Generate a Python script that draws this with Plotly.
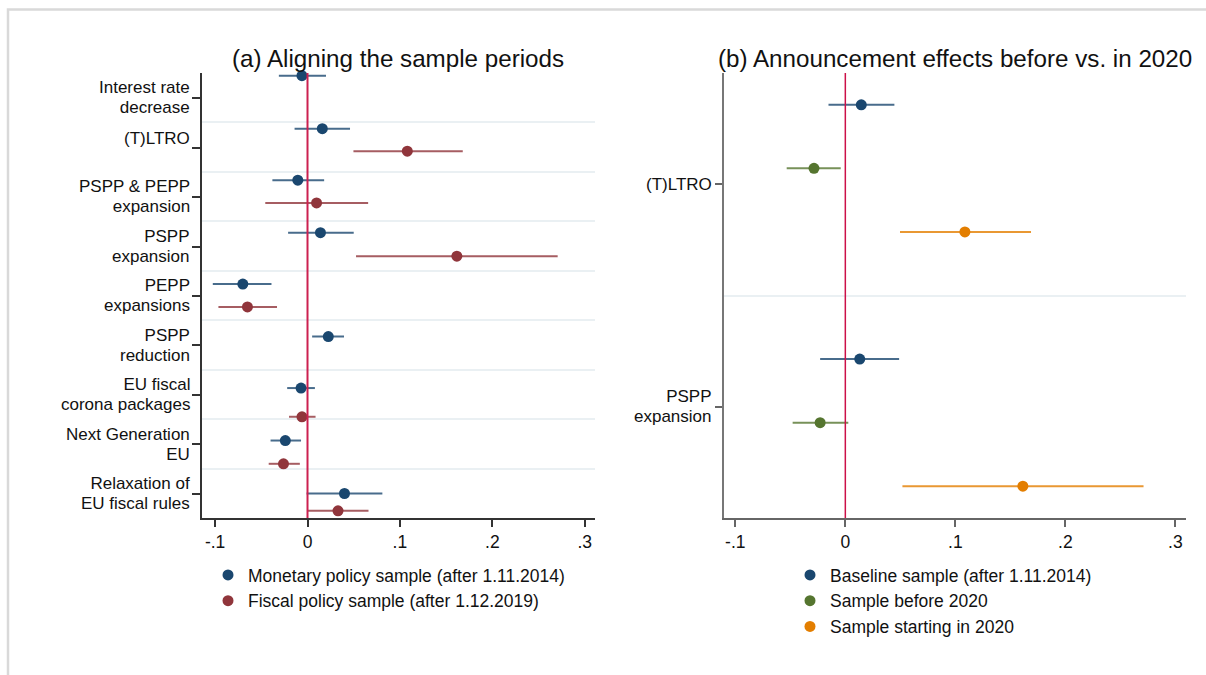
import plotly.graph_objects as go

# ---------------- data: panel (a) ----------------
cats_a = [["Interest rate", "decrease"], ["(T)LTRO"], ["PSPP &amp; PEPP", "expansion"],
          ["PSPP", "expansion"], ["PEPP", "expansions"], ["PSPP", "reduction"],
          ["EU fiscal", "corona packages"], ["Next Generation", "EU"],
          ["Relaxation of", "EU fiscal rules"]]

mon_coef = [-0.006, 0.016, -0.0105, 0.014, -0.070, 0.0225, -0.007, -0.024, 0.040]
mon_lo = [-0.031, -0.014, -0.038, -0.021, -0.1025, 0.005, -0.022, -0.040, -0.001]
mon_hi = [0.020, 0.046, 0.018, 0.050, -0.039, 0.0395, 0.008, -0.007, 0.081]

fis_coef = [None, 0.108, 0.0098, 0.1616, -0.065, None, -0.006, -0.026, 0.033]
fis_lo = [None, 0.0497, -0.0457, 0.0525, -0.0964, None, -0.020, -0.042, -0.0003]
fis_hi = [None, 0.168, 0.0656, 0.2707, -0.033, None, 0.0087, -0.0083, 0.066]

# ---------------- data: panel (b) ----------------
cats_b = [["(T)LTRO"], ["PSPP", "expansion"]]
base_coef = [0.0145, 0.0131]
base_lo = [-0.0153, -0.0229]
base_hi = [0.0446, 0.0489]
pre_coef = [-0.0285, -0.0229]
pre_lo = [-0.0533, -0.0479]
pre_hi = [-0.0042, 0.0027]
post_coef = [0.1087, 0.1614]
post_lo = [0.0497, 0.0519]
post_hi = [0.1688, 0.2711]

xtick_vals = [-0.1, 0, 0.1, 0.2, 0.3]
xtick_text = ["-.1", "0", ".1", ".2", ".3"]

# ---------------- layout positions (vertical placement of markers) ----------------
pos_mon = [-0.45, 0.62, 1.66, 2.72, 3.76, 4.82, 5.86, 6.92, 7.99]
pos_fis = [None, 1.075, 2.12, 3.196, 4.22, None, 6.44, 7.39, 8.34]
pos_b = {"base": [0, 4], "pre": [1, 5], "post": [2, 6]}
ticks_a = list(range(len(cats_a)))
ticks_b = [1.25, 4.75]

NAVY = "#1a476f"
MAROON = "#90353b"
GREEN = "#55752f"
ORANGE = "#e37e00"
FONT = "Liberation Sans, Arial, sans-serif"
W, H = 1206, 675


def rgba(hexc, a):
    h = hexc.lstrip("#")
    r, g, b = int(h[0:2], 16), int(h[2:4], 16), int(h[4:6], 16)
    return f"rgba({r},{g},{b},{a})"


def series(name, coef, lo, hi, pos, color, xa, ya, legend):
    xs, ys, ep, em = [], [], [], []
    for c, l, h, p in zip(coef, lo, hi, pos):
        if c is None:
            continue
        xs.append(c)
        ys.append(p)
        ep.append(h - c)
        em.append(c - l)
    return go.Scatter(
        x=xs, y=ys, mode="markers", name=name, xaxis=xa, yaxis=ya, legend=legend,
        marker=dict(color=color, size=11, line=dict(width=0)),
        error_x=dict(type="data", symmetric=False, array=ep, arrayminus=em,
                     color=rgba(color, 0.8), thickness=2, width=0),
        cliponaxis=False,
    )


fig = go.Figure()
fig.add_trace(series("Monetary policy sample (after 1.11.2014)", mon_coef, mon_lo, mon_hi,
                     pos_mon, NAVY, "x", "y", "legend"))
fig.add_trace(series("Fiscal policy sample (after 1.12.2019)", fis_coef, fis_lo, fis_hi,
                     pos_fis, MAROON, "x", "y", "legend"))
fig.add_trace(series("Baseline sample (after 1.11.2014)", base_coef, base_lo, base_hi,
                     pos_b["base"], NAVY, "x2", "y2", "legend2"))
fig.add_trace(series("Sample before 2020", pre_coef, pre_lo, pre_hi,
                     pos_b["pre"], GREEN, "x2", "y2", "legend2"))
fig.add_trace(series("Sample starting in 2020", post_coef, post_lo, post_hi,
                     pos_b["post"], ORANGE, "x2", "y2", "legend2"))

ydom = [1 - 518 / H, 1 - 73 / H]
tickfont = dict(family=FONT, size=17.5, color="#111")

xcommon = dict(tickvals=xtick_vals, ticktext=xtick_text, ticks="outside", ticklen=7,
               tickwidth=1.5, showline=True, linewidth=1.5, zeroline=False, showgrid=False,
               tickfont=tickfont, fixedrange=True)

fig.update_layout(
    width=W, height=H, margin=dict(l=0, r=0, t=0, b=0),
    paper_bgcolor="white", plot_bgcolor="white",
    font=dict(family=FONT, color="#111"),
    xaxis=dict(domain=[201.7 / W, 595 / W], range=[-0.1145, 0.3111], anchor="y",
               linecolor="#333", tickcolor="#333", **xcommon),
    yaxis=dict(domain=ydom, range=[8.485, -0.505], anchor="x",
               tickvals=ticks_a, showticklabels=False,
               ticks="outside", ticklen=8, tickwidth=1.5, tickcolor="#333",
               showline=True, linewidth=1.5, linecolor="#333",
               zeroline=False, showgrid=False,
               minor=dict(tickvals=[k + 0.49 for k in range(len(cats_a) - 1)],
                          showgrid=True, gridcolor="#eaf0f3", gridwidth=2, ticks=""),
               fixedrange=True),
    xaxis2=dict(domain=[724 / W, 1186 / W], range=[-0.1103, 0.3097], anchor="y2",
                linecolor="#666", tickcolor="#666", **xcommon),
    yaxis2=dict(domain=ydom, range=[6.5, -0.5], anchor="x2",
                tickvals=ticks_b, showticklabels=False,
                ticks="outside", ticklen=7, tickwidth=1.5, tickcolor="#666",
                showline=True, linewidth=1.5, linecolor="#777",
                zeroline=False, showgrid=False,
                minor=dict(tickvals=[3], showgrid=True, gridcolor="#eaf0f3",
                           gridwidth=2, ticks=""),
                fixedrange=True),
    legend=dict(x=208 / W, y=1 - 557 / H, xanchor="left", yanchor="top",
                font=dict(family=FONT, size=17.5, color="#111"),
                bgcolor="rgba(0,0,0,0)", itemclick=False),
    legend2=dict(x=790 / W, y=1 - 557 / H, xanchor="left", yanchor="top",
                 font=dict(family=FONT, size=17.5, color="#111"),
                 bgcolor="rgba(0,0,0,0)", itemclick=False),
    showlegend=True,
)


# category labels on the y axes: one text per label, compact line spacing
def add_cat_labels(cats, ticks, yref, xref, single_shift):
    for lines, t in zip(cats, ticks):
        txt = "<br>".join(f"<span style='font-size:17px'>{ln}</span>" for ln in lines)
        sh = single_shift if len(lines) == 1 else 0
        fig.add_annotation(text=txt, x=0, y=t, xref=xref, yref=yref, align="right",
                           xanchor="right", yanchor="middle", xshift=-10, yshift=sh,
                           showarrow=False, font=dict(family=FONT, size=15.2, color="#111"))


add_cat_labels(cats_a, ticks_a, "y", "x domain", 8.5)
add_cat_labels(cats_b, ticks_b, "y2", "x2 domain", 0)

# zero reference lines
fig.add_shape(type="line", xref="x", yref="y domain", x0=0, x1=0, y0=0, y1=1,
              line=dict(color="#cc2050", width=2))
fig.add_shape(type="line", xref="x2", yref="y2 domain", x0=0, x1=0, y0=0, y1=1,
              line=dict(color="#cc1048", width=1.5))

# outer frame of the figure
fig.add_shape(type="rect", xref="paper", yref="paper", x0=8 / W, x1=1.05,
              y0=-0.05, y1=1 - 9.5 / H, line=dict(color="#d9d9d9", width=2.5),
              layer="below")

# panel titles
for txt, xc in [("(a) Aligning the sample periods", (201.7 + 595) / 2 / W),
                ("(b) Announcement effects before vs. in 2020", (724 + 1186) / 2 / W)]:
    fig.add_annotation(text=txt, x=xc, y=1 - 58 / H, xref="paper", yref="paper",
                       xanchor="center", yanchor="middle", showarrow=False,
                       font=dict(family=FONT, size=24.2, color="#111"))

fig.write_html("out.html", config={"displayModeBar": False},
               post_script="document.body.style.margin='0px';")
